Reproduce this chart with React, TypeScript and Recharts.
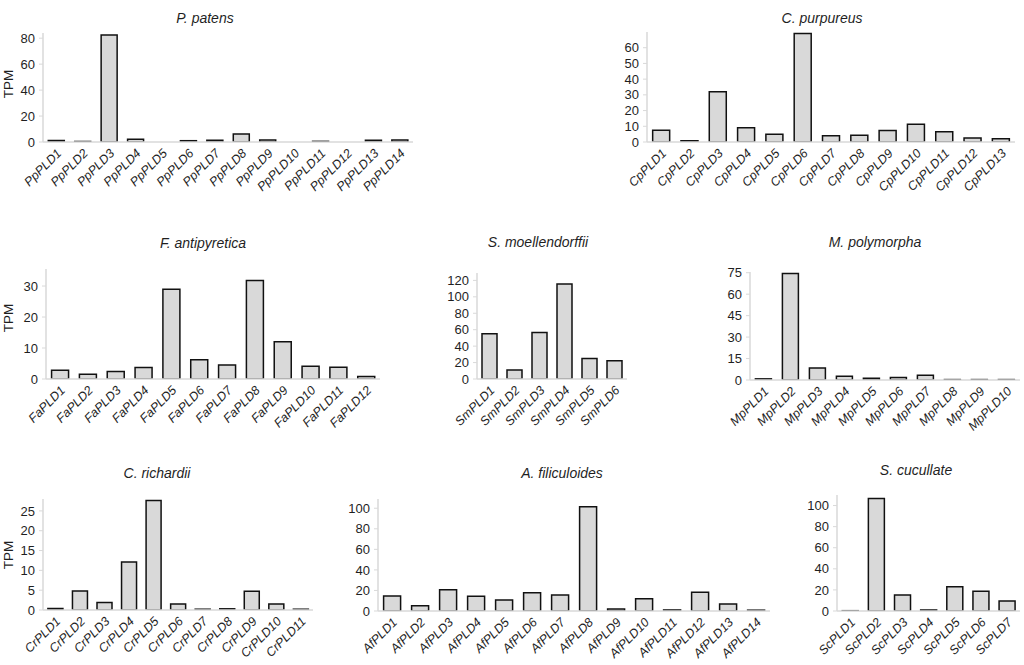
import React from "react";
import { Bar, BarChart, XAxis, YAxis } from "recharts";

// categories + TPM values
const ppGenes = ["PpPLD1", "PpPLD2", "PpPLD3", "PpPLD4", "PpPLD5", "PpPLD6", "PpPLD7", "PpPLD8", "PpPLD9", "PpPLD10", "PpPLD11", "PpPLD12", "PpPLD13", "PpPLD14"];
const ppTpm = [1.2, 0.4, 82.5, 2.1, 0, 1.0, 1.3, 6.2, 1.6, 0, 0.5, 0, 1.3, 1.6];
const ppTicks = [0, 20, 40, 60, 80];

const cpGenes = ["CpPLD1", "CpPLD2", "CpPLD3", "CpPLD4", "CpPLD5", "CpPLD6", "CpPLD7", "CpPLD8", "CpPLD9", "CpPLD10", "CpPLD11", "CpPLD12", "CpPLD13"];
const cpTpm = [7.5, 0.8, 32, 9, 5, 69, 4, 4.3, 7.3, 11.3, 6.5, 2.5, 2];
const cpTicks = [0, 10, 20, 30, 40, 50, 60];

const faGenes = ["FaPLD1", "FaPLD2", "FaPLD3", "FaPLD4", "FaPLD5", "FaPLD6", "FaPLD7", "FaPLD8", "FaPLD9", "FaPLD10", "FaPLD11", "FaPLD12"];
const faTpm = [2.8, 1.5, 2.4, 3.7, 29, 6.2, 4.5, 31.8, 12, 4.1, 3.8, 0.8];
const faTicks = [0, 10, 20, 30];

const smGenes = ["SmPLD1", "SmPLD2", "SmPLD3", "SmPLD4", "SmPLD5", "SmPLD6"];
const smTpm = [55, 11, 56.5, 115.5, 25, 22.3];
const smTicks = [0, 20, 40, 60, 80, 100, 120];

const mpGenes = ["MpPLD1", "MpPLD2", "MpPLD3", "MpPLD4", "MpPLD5", "MpPLD6", "MpPLD7", "MpPLD8", "MpPLD9", "MpPLD10"];
const mpTpm = [0.8, 74.5, 8.4, 2.6, 1.2, 1.8, 3.3, 0.3, 0.3, 0.3];
const mpTicks = [0, 15, 30, 45, 60, 75];

const crGenes = ["CrPLD1", "CrPLD2", "CrPLD3", "CrPLD4", "CrPLD5", "CrPLD6", "CrPLD7", "CrPLD8", "CrPLD9", "CrPLD10", "CrPLD11"];
const crTpm = [0.4, 4.8, 1.9, 12.1, 27.6, 1.5, 0.2, 0.3, 4.7, 1.5, 0.2];
const crTicks = [0, 5, 10, 15, 20, 25];

const afGenes = ["AfPLD1", "AfPLD2", "AfPLD3", "AfPLD4", "AfPLD5", "AfPLD6", "AfPLD7", "AfPLD8", "AfPLD9", "AfPLD10", "AfPLD11", "AfPLD12", "AfPLD13", "AfPLD14"];
const afTpm = [14.6, 5.2, 20.8, 14.3, 10.7, 17.8, 15.6, 101.4, 2, 12, 1, 18.2, 6.8, 0.8];
const afTicks = [0, 20, 40, 60, 80, 100];

const scGenes = ["ScPLD1", "ScPLD2", "ScPLD3", "ScPLD4", "ScPLD5", "ScPLD6", "ScPLD7"];
const scTpm = [0.3, 106.6, 15.2, 1, 23.1, 18.7, 9.5];
const scTicks = [0, 20, 40, 60, 80, 100];

const FONT = '"Liberation Sans", Arial, sans-serif';
const AXIS_GRAY = "#d9d9d9";
const TEXT = "#1f1f1f";

const toRows = (genes: string[], tpm: number[]) =>
  genes.map((name, i) => ({ name, tpm: tpm[i] }));

type PanelSpec = {
  title: string;
  genes: string[];
  tpm: number[];
  ticks: number[];
  yMax: number;
  // plot box in page pixels
  x0: number;
  x1: number;
  y0: number;
  y1: number;
  titleX: number;
  titleY: number;
  tpmY?: number;
};

const panels: PanelSpec[] = [
  { title: "P. patens", genes: ppGenes, tpm: ppTpm, ticks: ppTicks, yMax: 84, x0: 43, x1: 413, y0: 33, y1: 142, titleX: 205, titleY: 18, tpmY: 84 },
  { title: "C. purpureus", genes: cpGenes, tpm: cpTpm, ticks: cpTicks, yMax: 70, x0: 647, x1: 1015, y0: 32, y1: 142, titleX: 822, titleY: 18 },
  { title: "F. antipyretica", genes: faGenes, tpm: faTpm, ticks: faTicks, yMax: 35.5, x0: 46, x1: 380, y0: 269, y1: 379, titleX: 203, titleY: 243, tpmY: 318 },
  { title: "S. moellendorffii", genes: smGenes, tpm: smTpm, ticks: smTicks, yMax: 129, x0: 477, x1: 627, y0: 273, y1: 379, titleX: 538, titleY: 242 },
  { title: "M. polymorpha", genes: mpGenes, tpm: mpTpm, ticks: mpTicks, yMax: 75.5, x0: 750, x1: 1020, y0: 272, y1: 380, titleX: 875, titleY: 242 },
  { title: "C. richardii", genes: crGenes, tpm: crTpm, ticks: crTicks, yMax: 28, x0: 43, x1: 313, y0: 499, y1: 610, titleX: 157, titleY: 473, tpmY: 555 },
  { title: "A. filiculoides", genes: afGenes, tpm: afTpm, ticks: afTicks, yMax: 109, x0: 378, x1: 770, y0: 499, y1: 611, titleX: 562, titleY: 473 },
  { title: "S. cucullate", genes: scGenes, tpm: scTpm, ticks: scTicks, yMax: 110, x0: 837, x1: 1020, y0: 495, y1: 611, titleX: 916, titleY: 470 },
];

const GeneTick = (props: any) => {
  const { x, y, payload } = props;
  const ax = x + 6;
  const ay = y + 12;
  return (
    <text
      x={ax}
      y={ay}
      transform={`rotate(-45, ${ax}, ${ay})`}
      textAnchor="end"
      fill={TEXT}
      style={{ fontSize: 12.5, fontStyle: "italic", fontFamily: FONT }}
    >
      {payload.value}
    </text>
  );
};

const Y_W = 40;
const PAD_TOP = 10;
const PAD_RIGHT = 6;
const X_H = 70;

function Panel({ p }: { p: PanelSpec }) {
  const plotW = p.x1 - p.x0;
  const plotH = p.y1 - p.y0;
  return (
    <>
      <div
        style={{
          position: "absolute",
          left: p.x0 - Y_W,
          top: p.y0 - PAD_TOP,
        }}
      >
        <BarChart
          width={Y_W + plotW + PAD_RIGHT}
          height={PAD_TOP + plotH + X_H}
          data={toRows(p.genes, p.tpm)}
          margin={{ top: PAD_TOP, right: PAD_RIGHT, bottom: 0, left: 0 }}
          barCategoryGap="20%"
        >
          <XAxis
            dataKey="name"
            interval={0}
            height={X_H}
            tickLine={false}
            tickSize={0}
            tickMargin={0}
            axisLine={{ stroke: AXIS_GRAY, strokeWidth: 1.5 }}
            tick={<GeneTick />}
          />
          <YAxis
            width={Y_W}
            domain={[0, p.yMax]}
            ticks={p.ticks}
            interval={0}
            allowDataOverflow
            axisLine={{ stroke: AXIS_GRAY, strokeWidth: 1.5 }}
            tickLine={{ stroke: AXIS_GRAY }}
            tickSize={4}
            tickMargin={4}
            tick={{ fill: TEXT, fontSize: 13, fontFamily: FONT }}
          />
          <Bar
            dataKey="tpm"
            fill="#d9d9d9"
            stroke="#111"
            strokeWidth={1.5}
            isAnimationActive={false}
          />
        </BarChart>
      </div>
      <div
        style={{
          position: "absolute",
          left: p.titleX,
          top: p.titleY,
          transform: "translate(-50%, -50%)",
          fontSize: 14,
          fontStyle: "italic",
          color: TEXT,
          whiteSpace: "nowrap",
        }}
      >
        {p.title}
      </div>
      {p.tpmY != null && (
        <div
          style={{
            position: "absolute",
            left: 8,
            top: p.tpmY,
            transform: "translate(-50%, -50%) rotate(-90deg)",
            fontSize: 13.5,
            color: TEXT,
            whiteSpace: "nowrap",
          }}
        >
          TPM
        </div>
      )}
    </>
  );
}

export default function App() {
  return (
    <div
      style={{
        position: "absolute",
        left: 0,
        top: 0,
        width: 1024,
        height: 665,
        overflow: "hidden",
        background: "#fff",
        fontFamily: FONT,
      }}
    >
      {panels.map((p) => (
        <Panel key={p.title} p={p} />
      ))}
    </div>
  );
}
